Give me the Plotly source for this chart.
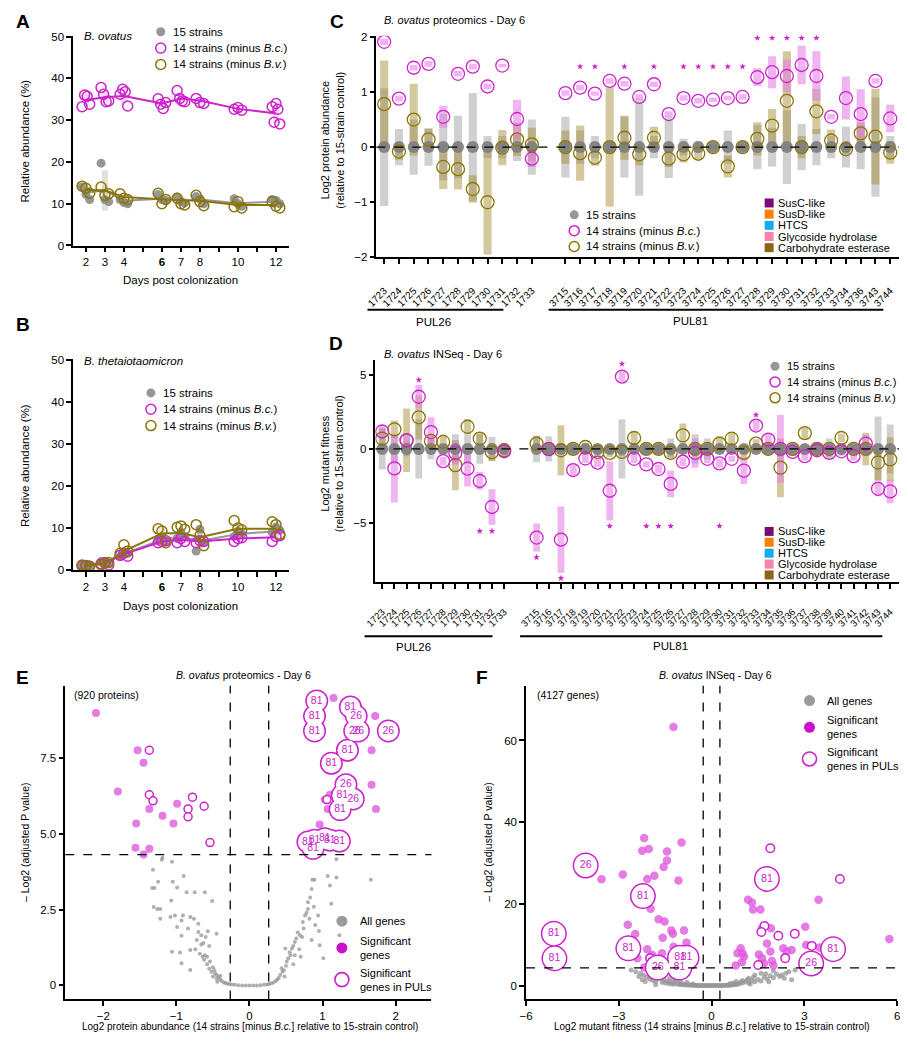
import numpy as np
import plotly.graph_objects as go

# page coordinates of the reference; the plot div sits 8px in from the page corner
W, H = 908, 1042
OFF = 8
FW, FH = W - OFF, H - OFF
FONT = "Arial, Liberation Sans, sans-serif"

MAGENTA = "#CC22CC"
MAGENTA_FILL = "rgba(222,90,222,0.8)"
MAGENTA_BAR = "rgba(228,120,228,0.55)"
OLIVE = "#8A7508"
OLIVE_BAR = "rgba(160,135,40,0.45)"
GREY = "rgba(125,125,125,0.9)"
GREY_BAR = "rgba(150,150,150,0.45)"
CLOUD = "rgba(150,150,150,0.75)"

CAT_COLORS = {
    "SusC-like": "#7A0A78",
    "SusD-like": "#FF8000",
    "HTCS": "#12AEEF",
    "Glycoside hydrolase": "#F583AC",
    "Carbohydrate esterase": "#8C6414",
}

# ---------------- panels A/B: relative abundance over time ----------------
DAYS = [2, 3, 4, 6, 7, 8, 10, 12]

BOV_MEAN_15 = [12.6, 13.2, 10.7, 11.2, 10.8, 11.0, 10.1, 10.5]
BOV_MEAN_BC = [34.8, 35.5, 35.8, 34.0, 35.2, 34.7, 32.7, 31.6]
BOV_MEAN_BV = [13.3, 13.2, 11.6, 11.0, 10.8, 10.7, 9.7, 9.7]
BOV_SD_15 = [1.5, 4.8, 0.6, 0.8, 0.7, 0.8, 0.9, 0.5]
BOV_SD_BC = [1.4, 1.5, 1.8, 1.0, 1.2, 0.6, 0.4, 2.3]
BOV_SD_BV = [0.9, 1.0, 0.7, 1.0, 0.7, 1.0, 0.7, 0.7]
BOV_REPS_15 = [[14.0, 12.3, 11.0], [19.7, 11.0, 10.5], [11.0, 10.3, 10.0],
               [12.2, 11.0, 10.8], [11.6, 10.5, 10.2], [11.7, 11.2, 10.0],
               [11.2, 10.0, 9.4], [11.0, 10.8, 10.0]]
BOV_REPS_BC = [[33.2, 36.0, 35.7, 33.8], [37.8, 36.2, 34.4, 34.6], [36.2, 37.4, 36.8, 33.4],
               [35.1, 33.8, 32.8, 34.2], [37.1, 35.2, 34.6, 34.4], [35.2, 34.2, 34.0],
               [32.6, 33.0, 32.4], [33.2, 29.5, 34.0, 32.6, 29.1]]
BOV_REPS_BV = [[14.2, 13.7, 12.5], [14.0, 12.0, 12.4], [12.4, 11.3, 11.0],
               [12.5, 10.0, 11.0], [11.3, 10.0, 9.7], [12.0, 10.5, 9.5],
               [9.3, 10.5, 9.0], [10.5, 9.4, 9.0]]

BTH_MEAN_15 = [1.0, 1.8, 3.9, 7.2, 7.9, 6.9, 8.6, 9.2]
BTH_MEAN_BC = [1.0, 1.6, 3.8, 6.8, 7.2, 6.8, 7.5, 7.8]
BTH_MEAN_BV = [1.0, 1.5, 4.5, 8.7, 8.8, 7.8, 9.8, 9.8]
BTH_SD_15 = [0.2, 0.3, 0.6, 0.4, 0.8, 2.1, 0.6, 0.6]
BTH_SD_BC = [0.1, 0.3, 0.4, 0.3, 0.5, 0.3, 0.5, 0.7]
BTH_SD_BV = [0.2, 0.3, 1.0, 1.7, 0.4, 2.5, 1.1, 1.5]
BTH_REPS_15 = [[1.0, 1.2, 0.9], [2.0, 1.7, 1.5], [3.2, 4.3, 4.0], [7.0, 7.5, 6.8],
               [7.5, 9.0, 8.0], [4.5, 9.7, 6.5], [8.0, 9.2, 8.6], [9.0, 10.2, 9.5]]
BTH_REPS_BC = [[1.0, 1.1, 0.9], [1.5, 1.8, 1.2], [3.5, 4.0, 3.3], [6.5, 6.8, 7.0],
               [6.5, 7.5, 6.8], [6.5, 7.0, 6.8], [6.8, 7.5, 7.7], [6.8, 8.0, 8.2]]
BTH_REPS_BV = [[1.2, 1.0, 0.9], [1.2, 1.6, 1.8], [4.0, 6.0, 4.5], [9.8, 9.3, 6.5],
               [10.2, 10.5, 9.7], [10.8, 8.2, 5.8], [11.8, 10.0, 9.6], [11.5, 10.8, 8.5]]

DAY_TICKS = list(range(2, 13))
DAY_LABELS = ["2", "3", "4", "", "<b>6</b>", "7", "8", "", "10", "", "12"]

# ---------------- gene annotations ----------------
GENE_CATEGORY = {
    1723: "Glycoside hydrolase", 1724: "Glycoside hydrolase", 1725: "Glycoside hydrolase",
    1728: "Glycoside hydrolase", 1730: "SusC-like", 1731: "SusD-like", 1732: "HTCS",
    1733: "Glycoside hydrolase",
    3715: "Glycoside hydrolase", 3716: "Glycoside hydrolase", 3717: "Glycoside hydrolase",
    3718: "Glycoside hydrolase", 3719: "Glycoside hydrolase", 3720: "Glycoside hydrolase",
    3721: "Glycoside hydrolase", 3722: "SusC-like", 3723: "SusD-like", 3724: "SusC-like",
    3725: "SusD-like", 3727: "Glycoside hydrolase", 3728: "Glycoside hydrolase",
    3729: "Glycoside hydrolase", 3730: "Glycoside hydrolase", 3731: "Carbohydrate esterase",
    3732: "Glycoside hydrolase", 3733: "HTCS", 3734: "Glycoside hydrolase", 3736: "HTCS",
    3737: "Glycoside hydrolase", 3738: "SusC-like", 3739: "SusD-like",
    3743: "Glycoside hydrolase",
}

# ---------------- panel C: proteomics ----------------
PROT_PUL26 = list(range(1723, 1734))
PROT_PUL81 = list(range(3715, 3735)) + [3736, 3743, 3744]

PROT_BC = [1.91, 0.88, 1.44, 1.51, 0.55, 1.33, 1.46, 1.10, 1.48, 0.51, -0.21,
           0.98, 1.08, 0.97, 1.20, 1.15, 0.91, 1.14, 0.60, 0.89, 0.84, 0.86, 0.89,
           0.91, 1.27, 1.36, 1.29, 1.49, 1.29, 0.55, 0.89, 0.60, 1.20, 0.52]
PROT_BC_ERR = [0.06, 0.05, 0.05, 0.05, 0.2, 0.05, 0.05, 0.05, 0.03, 0.35, 0.15,
               0.05, 0.05, 0.04, 0.05, 0.05, 0.05, 0.05, 0.05, 0.05, 0.05, 0.04, 0.04,
               0.05, 0.16, 0.29, 0.3, 0.35, 0.45, 0.05, 0.39, 0.45, 0.05, 0.25]
PROT_BV = [0.78, -0.08, 0.50, 0.14, -0.36, -0.40, -0.76, -1.00, -0.01, 0.14, 0.05,
           0.0, -0.11, -0.19, 0.0, 0.17, -0.13, 0.17, -0.21, -0.13, -0.12, 0.0, -0.35,
           0.0, 0.15, 0.39, 0.84, 0.0, 0.65, 0.12, -0.04, 0.25, 0.19, -0.10]
PROT_BV_ERR = [0.79, 0.15, 0.65, 0.2, 0.4, 0.37, 0.25, 0.95, 0.32, 0.3, 0.3,
               0.3, 0.5, 0.15, 1.08, 0.4, 0.2, 0.2, 0.15, 0.15, 0.1, 0.05, 0.2,
               0.05, 0.3, 0.3, 0.9, 0.2, 0.41, 0.2, 0.1, 0.2, 0.87, 0.2]
PROT_15_ERR = [1.07, 0.33, 0.5, 0.34, 0.6, 0.57, 0.98, 0.2, 0.2, 0.25, 0.5,
               0.55, 0.3, 0.2, 0.1, 0.55, 0.88, 0.2, 0.56, 0.15, 0.1, 0.05, 0.3,
               0.05, 0.4, 0.35, 0.67, 0.42, 0.33, 0.2, 0.37, 0.4, 0.9, 0.2]
PROT_STAR = [2.14, None, 2.14, 2.14, None, 2.14, 2.14, None, 2.14, None, None,
             None, 1.46, 1.46, None, 1.46, None, 1.46, None, 1.46, 1.46, 1.46, 1.46,
             1.46, 1.98, 1.98, 1.98, 1.98, 1.98, None, None, None, None, None]

# ---------------- panel D: INSeq ----------------
INS_PUL26 = list(range(1723, 1734))
INS_PUL81 = list(range(3715, 3745))

INS_BC = [1.18, -1.32, 0.58, 3.53, 1.14, -0.83, -0.27, -1.34, -2.17, -3.93, -0.16,
          -6.0, -0.02, -6.14, -1.43, -0.65, -0.93, -2.83, 4.89, -0.67, -1.05, -1.36,
          -2.37, -0.87, -0.27, -0.67, -0.98, -0.67, -1.47, 1.58, 0.63, 0.0, -0.2,
          -0.49, -0.09, -0.27, -0.16, -0.49, 0.36, -2.7, -2.88]
INS_BC_ERR = [0.35, 2.3, 0.5, 0.8, 1.0, 0.3, 0.8, 1.2, 0.6, 1.2, 0.3,
              0.95, 0.3, 2.25, 0.4, 0.3, 0.3, 2.0, 0.4, 0.3, 0.2, 0.3, 0.9, 0.3,
              1.0, 0.3, 0.3, 0.2, 0.9, 0.4, 0.4, 2.3, 0.3, 0.3, 0.3, 0.3, 0.3, 0.3,
              0.6, 0.5, 0.8]
INS_BV = [0.7, 1.32, 0.58, 2.14, 0.54, 0.47, -1.1, 1.5, 0.7, -0.22, -0.09,
          0.36, 0.0, -0.09, 0.0, 0.13, -0.2, -0.27, -0.2, 0.74, 0.0, 0.0, -0.27,
          0.92, 0.0, 0.0, 0.36, 0.69, -0.27, 0.36, 0.0, -1.27, 0.0, 1.07, 0.0, 0.0,
          0.74, 0.0, 0.0, -0.92, -0.71]
INS_BV_ERR = [0.7, 0.6, 2.15, 1.5, 0.5, 0.5, 1.7, 0.5, 0.4, 0.6, 0.4,
              0.5, 0.2, 1.7, 0.2, 0.3, 0.3, 0.3, 0.3, 0.4, 0.3, 0.2, 0.3, 0.8,
              0.3, 0.3, 0.5, 0.4, 0.5, 0.3, 0.2, 2.0, 0.2, 0.4, 0.2, 0.2, 0.3, 0.2,
              1.1, 1.2, 1.5]
INS_15_ERR = [1.4, 1.0, 0.5, 2.0, 0.7, 0.3, 1.0, 1.0, 1.0, 0.8, 0.3,
              0.9, 0.85, 0.3, 0.3, 0.3, 0.3, 0.3, 2.0, 0.3, 0.3, 0.3, 0.7, 0.3,
              1.0, 0.7, 0.3, 0.3, 0.3, 0.3, 0.3, 0.5, 0.3, 0.3, 0.3, 0.7, 0.3,
              0.3, 0.3, 2.2, 1.65]
INS_STAR = [None, None, None, 4.67, None, None, None, None, -5.56, -5.56, None,
            -7.34, None, -8.75, None, None, None, -5.22, 5.76, None, -5.22, -5.22,
            -5.22, None, None, None, -5.22, None, None, 2.3, None, None, None,
            None, None, None, None, None, None, None, None]

# ---------------- panel E: proteomics volcano ----------------
E_ALL_X = [-1.19, -1.2, -1.06, -1.32, -1.25, -1.33, -1.3, -1.05, -0.9, -0.99, -0.86, -0.75,
           -0.61, -0.51, -1.31, -1.26, -1.22, -1.07, -1.22, -1.08, -1.02, -0.91, -0.93, -0.81,
           -0.76, -0.7, -0.99, -0.84, -0.93, -0.7, -0.57, -0.45, -0.66, -0.6, -0.72, -0.63,
           -0.55, -0.66, -1.06, -0.95, -0.81, -0.74, -0.61, -0.68, -0.54, -0.81, -0.93, -0.58,
           -0.62, -0.5, -0.52, -0.48, -0.45, -0.42, -0.4, -0.38, -0.45, -0.5, -0.55, -0.35,
           -0.33, -0.47, -0.58, -0.64, -0.44, -0.4, -0.3, -0.27, -0.24, -0.2, -0.15, -0.1,
           -0.05, 0.0, 0.05, 0.1, 0.15, 0.2, 0.24, 0.27, 0.3, 0.33, 0.36, 0.38, 0.4, 0.42,
           0.44, 0.45, 0.47, 0.51, 0.5, 0.53, 0.56, 0.58, 0.55, 0.49, 0.62, 0.6, 0.64, 0.69,
           0.66, 0.74, 0.72, 0.76, 0.73, 0.8, 0.78, 0.83, 0.8, 0.85, 0.86, 0.89, 0.94, 0.96,
           1.01, 1.1, 1.12, 1.19, 1.07, 1.19, 1.23, 1.66, 0.68, 0.7, 0.62, 0.85, 0.9, 0.95,
           0.88, 0.82, 0.6, 0.48]
E_ALL_Y = [4.22, 4.15, 4.09, 3.82, 3.43, 3.22, 3.22, 3.43, 3.62, 3.24, 3.08, 3.08,
           3.08, 2.79, 2.59, 2.53, 2.53, 2.81, 2.2, 2.26, 2.31, 2.31, 2.15, 2.26,
           2.2, 2.04, 1.93, 1.88, 1.64, 1.77, 1.79, 1.71, 1.66, 1.6, 1.5, 1.4,
           1.3, 1.35, 1.11, 1.09, 1.17, 1.2, 1.0, 1.05, 0.79, 0.51, 0.73, 0.95,
           0.85, 0.6, 0.45, 0.5, 0.35, 0.28, 0.2, 0.15, 0.22, 0.3, 0.55, 0.1,
           0.08, 0.4, 0.7, 0.95, 0.12, 0.32, 0.06, 0.04, 0.03, 0.02, 0.01, 0.0,
           0.0, 0.0, 0.0, 0.0, 0.01, 0.02, 0.03, 0.05, 0.07, 0.1, 0.15, 0.2, 0.25, 0.35,
           0.57, 0.45, 0.5, 0.79, 0.65, 0.9, 1.0, 1.22, 1.1, 1.22, 1.44, 1.3, 1.55, 1.66,
           1.75, 1.88, 1.6, 2.31, 2.1, 2.53, 2.4, 2.91, 2.75, 3.19, 3.49, 3.49, 2.31, 1.33,
           0.9, 3.3, 2.7, 4.17, 3.62, 3.57, 1.66, 3.49, 1.2, 0.95, 1.0, 1.5, 2.0, 1.8,
           2.6, 2.2, 0.7, 0.3]
E_SIG_X = [-2.1, -1.53, -1.45, -1.8, -1.37, -1.19, -0.99, -1.04, -1.55, -1.56, -1.45, -1.37,
           1.67, 1.67, 1.73, 0.96, 1.03, 1.1, 1.07, 1.15, 1.72]
E_SIG_Y = [9.0, 7.77, 7.36, 6.41, 5.83, 5.61, 6.0, 5.35, 5.35, 4.55, 4.33, 4.52,
           7.77, 6.63, 5.83, 5.32, 6.14, 6.3, 5.83, 9.5, 8.9]
E_PUL_X = [-1.37, -1.37, -1.32, -0.78, -0.84, -0.84, -0.62, -0.54, 1.06]
E_PUL_Y = [7.77, 6.3, 6.1, 6.22, 5.83, 5.57, 5.92, 4.72, 6.14]
E_TAG = ["81", "81", "81", "26", "26", "26", "81", "81", "26", "81", "26", "26", "81",
         "81", "81", "81", "81", "81", "81", "81"]
E_TAG_X = [0.92, 0.89, 0.89, 1.44, 1.49, 1.9, 1.38, 1.34, 1.46, 1.12, 1.32, 1.42, 1.27,
           1.24, 0.8, 0.89, 1.03, 1.1, 1.23, 0.87]
E_TAG_Y = [9.4, 8.9, 8.41, 8.41, 8.41, 8.41, 9.2, 7.77, 8.9, 7.34, 6.63, 6.16, 6.28,
           5.81, 4.74, 4.8, 4.85, 4.8, 4.77, 4.53]

# ---------------- panel F: INSeq volcano ----------------
F_ALL_X = [-2.6, -2.45, -2.3, -2.2, -2.24, -2.1, -2.0, -1.95, -1.9, -1.81, -1.8, -1.7,
           -1.6, -1.55, -1.5, -1.45, -1.4, -1.35, -1.3, -1.25, -1.2, -1.1, -1.05, -1.0,
           -0.95, -0.9, -0.85, -0.8, -0.75, -0.7, -0.65, -0.6, -0.55, -0.5, -0.45, -0.4,
           -0.35, -0.3, -0.25, -0.2, -0.15, -0.1, -0.05, 0.0, 0.05, 0.1, 0.15, 0.2, 0.25,
           0.3, 0.35, 0.4, 0.45, 0.5, 0.55, 0.6, 0.65, 0.7, 0.75, 0.8, 0.85, 0.9, 1.0,
           1.1, 1.2, 1.3, 1.4, 1.5, 1.6, 1.7, 1.8, 1.9, 2.0, 2.1, 2.2, 2.27, 2.4, 2.59,
           2.5, 2.7, 1.0, 1.2, -1.0, -1.2, -0.8, 0.7, 0.8, -2.0, 1.6, 2.0, -1.7, -1.5,
           1.4, -2.35, -1.85, -1.65, -1.15, 1.15, 1.35, 1.75, 2.35, 0.95, -0.6, 0.6,
           -1.35, 1.25, 1.85, -2.15]
F_ALL_Y = [3.8, 3.4, 3.0, 2.6, 1.4, 2.0, 1.6, 2.8, 1.2, 0.2, 1.0, 1.8,
           0.8, 1.4, 0.6, 1.1, 0.5, 0.9, 0.4, 0.7, 0.3, 0.5, 0.25, 0.4,
           0.2, 0.3, 0.15, 0.2, 0.1, 0.15, 0.08, 0.1, 0.05, 0.06, 0.03, 0.04,
           0.02, 0.02, 0.01, 0.0, 0.0, 0.0, 0.0, 0.0, 0.0, 0.0, 0.0, 0.01, 0.01,
           0.02, 0.03, 0.04, 0.05, 0.07, 0.08, 0.1, 0.15, 0.2, 0.25, 0.3, 0.3, 0.5, 0.6,
           0.9, 0.7, 1.2, 0.9, 1.5, 1.1, 2.0, 1.6, 2.4, 1.9, 2.8, 2.2, 2.6, 3.0, 1.4,
           3.4, 3.8, 1.2, 1.8, 1.0, 1.6, 0.8, 0.6, 1.0, 3.4, 3.0, 3.6, 3.2, 2.5,
           2.6, 2.2, 2.2, 2.6, 1.3, 1.4, 2.0, 2.9, 1.8, 0.9, 0.4, 0.5,
           1.7, 0.4, 0.9, 1.0]
F_SIG_X = [-1.23, -2.18, -2.03, -2.24, -0.97, -1.44, -1.44, -1.55, -1.85, -2.08, -2.87,
           -3.56, -1.07, -1.97, -1.71, -1.52, -2.71, -2.47, -1.3, -1.25, -0.89, -1.58,
           -0.81, -2.08, -2.4, -1.92, -1.6, -2.18, -1.23,
           1.18, 1.31, 1.58, 1.34, 3.46, 3.03, 1.92, 1.63, 1.79, 1.9, 2.32, 2.59, 3.06,
           3.49, 5.75, 0.94, 0.84, 1.0, 1.05, 0.98, 0.78, 1.53, 1.63, 1.69, 1.95, 2.0, 2.43]
F_SIG_Y = [63.3, 36.1, 33.4, 33.0, 35.0, 32.8, 30.6, 29.0, 26.9, 26.1, 27.2,
           26.0, 25.7, 18.8, 16.2, 15.7, 14.9, 12.6, 13.5, 12.7, 13.5, 11.7,
           10.5, 8.9, 6.7, 7.5, 7.9, 4.4, 9.5,
           21.0, 20.3, 18.6, 18.6, 21.0, 14.4, 14.0, 14.0, 10.3, 8.3, 9.1, 8.7, 9.9,
           9.3, 11.4, 9.1, 7.9, 7.9, 7.1, 5.7, 4.9, 7.6, 6.7, 5.4, 6.0, 4.9, 8.3]
F_PUL_X = [1.9, 4.15, 1.71, 1.61, 2.16, 2.69, 3.24, 2.38, 1.51, -1.99]
F_PUL_Y = [33.6, 26.1, 14.6, 13.1, 12.2, 12.7, 9.7, 6.7, 5.0, 6.7]
F_TAG = ["26", "81", "81", "81", "81", "81", "26", "81", "81", "81", "81", "26"]
F_TAG_X = [-4.07, -2.22, 1.79, -5.1, -5.08, -2.69, -1.74, -1.02, -0.81, -1.04, 3.93, 3.22]
F_TAG_Y = [29.4, 21.9, 26.1, 12.7, 6.65, 9.1, 4.4, 6.8, 6.8, 4.4, 8.9, 5.4]

FC_CUT_E = 0.263
FC_CUT_F = 0.27
P_CUT = 4.32


def dom_x(left, right):
    return [(left - OFF) / FW, (right - OFF) / FW]


def dom_y(top, bottom):
    return [1 - (bottom - OFF) / FH, 1 - (top - OFF) / FH]


fig = go.Figure()


def add_timecourse(xa, ya, means, sds, reps, color, bar_color, filled):
    fig.add_trace(go.Bar(x=DAYS, y=2 * np.array(sds), base=np.array(means) - np.array(sds),
                         width=0.32, marker_color=bar_color, marker_line_width=0,
                         xaxis=xa, yaxis=ya, showlegend=False))
    fig.add_trace(go.Scatter(x=DAYS, y=means, mode="lines", line=dict(color=color, width=2),
                             xaxis=xa, yaxis=ya, showlegend=False))
    xs, ys = [], []
    for day, vals in zip(DAYS, reps):
        offs = np.linspace(-0.2, 0.2, len(vals))
        xs += list(day + offs)
        ys += vals
    marker = dict(size=9, color=color) if filled else \
        dict(size=10, symbol="circle-open", color=color, line=dict(width=1.5))
    fig.add_trace(go.Scatter(x=xs, y=ys, mode="markers", marker=marker,
                             xaxis=xa, yaxis=ya, showlegend=False, cliponaxis=False))


for xa, ya, group in [
    ("x", "y", [(BOV_MEAN_15, BOV_SD_15, BOV_REPS_15), (BOV_MEAN_BC, BOV_SD_BC, BOV_REPS_BC),
                (BOV_MEAN_BV, BOV_SD_BV, BOV_REPS_BV)]),
    ("x2", "y2", [(BTH_MEAN_15, BTH_SD_15, BTH_REPS_15), (BTH_MEAN_BC, BTH_SD_BC, BTH_REPS_BC),
                  (BTH_MEAN_BV, BTH_SD_BV, BTH_REPS_BV)]),
]:
    styles = [("rgba(140,140,140,0.9)", "rgba(170,170,170,0.35)", True),
              (MAGENTA, "rgba(230,140,230,0.35)", False),
              (OLIVE, "rgba(200,185,120,0.35)", False)]
    for (m, s, r), (c, bc, f) in zip(group, styles):
        add_timecourse(xa, ya, m, s, r, c, bc, f)


def gene_positions(n26, n81, gap):
    return np.concatenate([np.arange(n26), n26 + gap + np.arange(n81)])


def add_gene_panel(xa, ya, genes, pos, bc, bc_err, bv, bv_err, g_err, stars,
                   bar_w, sq_y, sq_size, dot_size, ring_size):
    bc, bc_err, bv, bv_err, g_err = map(np.array, (bc, bc_err, bv, bv_err, g_err))
    common = dict(xaxis=xa, yaxis=ya, showlegend=False)
    fig.add_trace(go.Bar(x=pos, y=2 * g_err, base=-g_err, width=bar_w,
                         marker_color=GREY_BAR, marker_line_width=0, **common))
    fig.add_trace(go.Bar(x=pos, y=2 * bv_err, base=bv - bv_err, width=bar_w,
                         marker_color=OLIVE_BAR, marker_line_width=0, **common))
    fig.add_trace(go.Bar(x=pos, y=2 * bc_err, base=bc - bc_err, width=bar_w,
                         marker_color=MAGENTA_BAR, marker_line_width=0, **common))
    fig.add_trace(go.Scatter(x=pos, y=np.zeros(len(pos)), mode="markers",
                             marker=dict(size=dot_size, color=GREY), **common))
    fig.add_trace(go.Scatter(x=pos, y=bv, mode="markers",
                             marker=dict(size=ring_size, symbol="circle-open", color=OLIVE,
                                         line=dict(width=1.3)), **common))
    fig.add_trace(go.Scatter(x=pos, y=bc, mode="markers",
                             marker=dict(size=ring_size, symbol="circle-open", color=MAGENTA,
                                         line=dict(width=1.3)), **common))
    sx = [p for p, s in zip(pos, stars) if s is not None]
    sy = [s for s in stars if s is not None]
    fig.add_trace(go.Scatter(x=sx, y=sy, mode="markers", cliponaxis=False,
                             marker=dict(size=5, symbol="star", color=MAGENTA), **common))
    cx = [p for p, g in zip(pos, genes) if g in GENE_CATEGORY]
    cc = [CAT_COLORS[GENE_CATEGORY[g]] for g in genes if g in GENE_CATEGORY]
    fig.add_trace(go.Scatter(x=cx, y=[sq_y] * len(cx), mode="markers", cliponaxis=False,
                             marker=dict(size=sq_size, symbol="square", color=cc), **common))


prot_genes = PROT_PUL26 + PROT_PUL81
prot_pos = gene_positions(len(PROT_PUL26), len(PROT_PUL81), 1.27)
add_gene_panel("x3", "y3", prot_genes, prot_pos, PROT_BC, PROT_BC_ERR, PROT_BV, PROT_BV_ERR,
               PROT_15_ERR, PROT_STAR, 0.55, -2.27, 10, 12, 13)

ins_genes = INS_PUL26 + INS_PUL81
ins_pos = gene_positions(len(INS_PUL26), len(INS_PUL81), 1.66)
add_gene_panel("x4", "y4", ins_genes, ins_pos, INS_BC, INS_BC_ERR, INS_BV, INS_BV_ERR,
               INS_15_ERR, INS_STAR, 0.56, -9.94, 9, 12, 13)


def add_volcano(xa, ya, ax, ay, sx, sy, px, py, tags, tx, ty, cloud_size, sig_size, tag_size):
    common = dict(xaxis=xa, yaxis=ya, showlegend=False, cliponaxis=False)
    fig.add_trace(go.Scatter(x=ax, y=ay, mode="markers",
                             marker=dict(size=cloud_size, color=CLOUD), **common))
    fig.add_trace(go.Scatter(x=sx, y=sy, mode="markers",
                             marker=dict(size=sig_size, color=MAGENTA_FILL), **common))
    fig.add_trace(go.Scatter(x=px, y=py, mode="markers",
                             marker=dict(size=sig_size, color="white",
                                         line=dict(color=MAGENTA, width=1.5)), **common))
    # outline pass then white pass, so overlapping rings merge into one outline
    fig.add_trace(go.Scatter(x=tx, y=ty, mode="markers",
                             marker=dict(size=tag_size + 3, color=MAGENTA), **common))
    fig.add_trace(go.Scatter(x=tx, y=ty, mode="markers",
                             marker=dict(size=tag_size, color="white"), **common))
    fig.add_trace(go.Scatter(x=tx, y=ty, mode="text", text=tags,
                             textfont=dict(size=10.5, color=MAGENTA, family=FONT), **common))


add_volcano("x5", "y5", E_ALL_X, E_ALL_Y, E_SIG_X, E_SIG_Y, E_PUL_X, E_PUL_Y,
            E_TAG, E_TAG_X, E_TAG_Y, 4, 8, 20)
add_volcano("x6", "y6", F_ALL_X, F_ALL_Y, F_SIG_X, F_SIG_Y, F_PUL_X, F_PUL_Y,
            F_TAG, F_TAG_X, F_TAG_Y, 5, 8.5, 23)

# ---------------- overlay in page pixels for legends and labels ----------------
def px_marker(x, y, **marker):
    fig.add_trace(go.Scatter(x=[x], y=[y], mode="markers", marker=marker,
                             xaxis="x7", yaxis="y7", showlegend=False, cliponaxis=False))


def px_text(x, y, s, size=11, xanchor="left", angle=0, align="left"):
    fig.add_annotation(x=x, y=y, xref="x7", yref="y7", text=s, showarrow=False,
                       xanchor=xanchor, yanchor="middle", textangle=angle, align=align,
                       font=dict(size=size, family=FONT, color="black"))


def px_line(x0, x1, y):
    fig.add_shape(type="line", xref="x7", yref="y7", x0=x0, x1=x1, y0=y, y1=y,
                  line=dict(color="black", width=2))


SERIES_LABELS = ["15 strains", "14 strains (minus <i>B.c.</i>)", "14 strains (minus <i>B.v.</i>)"]


def series_legend(x, y0, step, size=11.5):
    px_marker(x, y0, size=9, color="rgba(140,140,140,0.9)")
    px_marker(x, y0 + step, size=10, symbol="circle-open", color=MAGENTA, line=dict(width=1.5))
    px_marker(x, y0 + 2 * step, size=10, symbol="circle-open", color=OLIVE, line=dict(width=1.5))
    for i, lab in enumerate(SERIES_LABELS):
        px_text(x + 10, y0 + i * step, lab, size)


def category_legend(x, y0, step):
    for i, (name, col) in enumerate(CAT_COLORS.items()):
        px_marker(x, y0 + i * step, size=9, symbol="square", color=col)
        px_text(x + 7, y0 + i * step, name, 11)


series_legend(152, 27, 16.5)
series_legend(142, 392, 16.5)
series_legend(572, 212, 16)
series_legend(776, 365, 16, 11)
category_legend(770, 200, 11.3)
category_legend(770, 532, 11)

for x, y, s in [(12, 17, "A"), (12, 323, "B"), (331, 17, "C"), (330, 342, "D"),
                (12, 680, "E"), (478, 680, "F")]:
    px_text(x, y, f"<b>{s}</b>", 19, xanchor="center")

px_text(72, 31, "<i>B. ovatus</i>", 11.5)
px_text(72, 360, "<i>B. thetaiotaomicron</i>", 11.5)
px_text(172, 278, "Days post colonization", 11.5, xanchor="center")
px_text(172, 607, "Days post colonization", 11.5, xanchor="center")
px_text(14, 137, "Relative abundance (%)", 11.5, xanchor="center", angle=-90)
px_text(14, 465, "Relative abundance (%)", 11.5, xanchor="center", angle=-90)

px_text(377, 15, "<i>B. ovatus</i> proteomics - Day 6", 11)
px_text(326, 137, "Log2 protein abundance<br>(relative to 15-strain control)", 11,
        xanchor="center", angle=-90, align="center")
px_text(377, 353, "<i>B. ovatus</i> INSeq - Day 6", 11)
px_text(326, 464, "Log2 mutant fitness<br>(relative to 15-strain control)", 11,
        xanchor="center", angle=-90, align="center")

px_line(362, 500, 308)
px_line(546, 886, 308)
px_text(429, 320, "PUL26", 11.5, xanchor="center")
px_text(690, 319, "PUL81", 11.5, xanchor="center")
px_line(359, 489, 638)
px_line(517, 885, 638)
px_text(409, 649, "PUL26", 11.5, xanchor="center")
px_text(670, 648, "PUL81", 11.5, xanchor="center")

# volcano legends and labels
px_text(236, 677, "<i>B. ovatus</i> proteomics - Day 6", 10.5, xanchor="center")
px_text(62, 697, "(920 proteins)", 10.5)
px_text(715, 677, "<i>B. ovatus</i> INSeq - Day 6", 10.5, xanchor="center")
px_text(532, 697, "(4127 genes)", 10.5)
for lx, ys in [(336, (926, 953, 985)), (811, (703, 730, 762))]:
    px_marker(lx, ys[0], size=11, color="rgba(150,150,150,0.95)")
    px_marker(lx, ys[1], size=11, color="#CC11CC")
    px_marker(lx, ys[2], size=14, symbol="circle-open", color=MAGENTA, line=dict(width=1.6))
    px_text(lx + 16, ys[0], "All genes", 11)
    px_text(lx + 16, ys[1], "Significant<br>genes", 11)
    px_text(lx + 16, ys[2], "Significant<br>genes in PULs", 11)

px_text(14, 846, "\u2013 Log2 (adjusted P value)", 10.5, xanchor="center", angle=-90)
px_text(485, 846, "\u2013 Log2 (adjusted P value)", 10.5, xanchor="center", angle=-90)
px_text(243, 1032, "Log2 protein abundance (14 strains [minus <i>B.c.</i>] relative to 15-strain control)",
        10, xanchor="center")
px_text(712, 1032, "Log2 mutant fitness (14 strains [minus <i>B.c.</i>] relative to 15-strain control)",
        10, xanchor="center")

# ---------------- reference lines ----------------
def dashed(xref, yref, x0, x1, y0, y1):
    fig.add_shape(type="line", xref=xref, yref=yref, x0=x0, x1=x1, y0=y0, y1=y1,
                  line=dict(color="black", width=1.3, dash="dash"))


dashed("x3 domain", "y3", 0, 1, 0, 0)
dashed("x4 domain", "y4", 0, 1, 0, 0)
dashed("x5 domain", "y5", 0, 1, P_CUT, P_CUT)
dashed("x5", "y5 domain", -FC_CUT_E, -FC_CUT_E, 0, 1)
dashed("x5", "y5 domain", FC_CUT_E, FC_CUT_E, 0, 1)
dashed("x6 domain", "y6", 0, 1, P_CUT, P_CUT)
dashed("x6", "y6 domain", -FC_CUT_F, -FC_CUT_F, 0, 1)
dashed("x6", "y6 domain", FC_CUT_F, FC_CUT_F, 0, 1)

# ---------------- axes ----------------
axis_style = dict(showline=True, linecolor="black", linewidth=1.5, ticks="outside",
                  ticklen=5, tickwidth=1.5, tickcolor="black", showgrid=False,
                  zeroline=False, tickfont=dict(size=11.5, family=FONT, color="black"))

day_axis = dict(axis_style, range=[1.33, 12.67], tickvals=DAY_TICKS, ticktext=DAY_LABELS)
abund_axis = dict(axis_style, range=[0, 50.2], tickvals=[0, 10, 20, 30, 40, 50])

fig.update_layout(
    width=FW, height=FH, margin=dict(l=0, r=0, t=0, b=0),
    paper_bgcolor="white", plot_bgcolor="rgba(0,0,0,0)",
    barmode="overlay", font=dict(family=FONT, color="black"),
    xaxis=dict(day_axis, domain=dom_x(63, 282), anchor="y"),
    yaxis=dict(abund_axis, domain=dom_y(31, 243), anchor="x"),
    xaxis2=dict(day_axis, domain=dom_x(63, 282), anchor="y2"),
    yaxis2=dict(abund_axis, domain=dom_y(358, 571), anchor="x2"),
    xaxis3=dict(axis_style, domain=dom_x(371, 902), anchor="y3",
                range=[-0.53, prot_pos[-1] + 0.6], tickvals=prot_pos,
                ticktext=[str(g) for g in prot_genes], tickangle=-45,
                ticklabelstandoff=17, tickfont=dict(size=10, family=FONT, color="black")),
    yaxis3=dict(axis_style, domain=dom_y(31, 255), anchor="x3", range=[-2, 2.02],
                tickvals=[-2, -1, 0, 1, 2]),
    xaxis4=dict(axis_style, domain=dom_x(370, 902), anchor="y4",
                range=[-0.56, ins_pos[-1] + 0.73], tickvals=ins_pos,
                ticktext=[str(g) for g in ins_genes], tickangle=-45,
                ticklabelstandoff=14, tickfont=dict(size=9.5, family=FONT, color="black")),
    yaxis4=dict(axis_style, domain=dom_y(359, 583), anchor="x4", range=[-9, 6],
                tickvals=[-5, 0, 5]),
    xaxis5=dict(axis_style, domain=dom_x(55, 427), anchor="y5", range=[-2.52, 2.49],
                tickvals=[-2, -1, 0, 1, 2]),
    yaxis5=dict(axis_style, domain=dom_y(688, 1005), anchor="x5", range=[-0.46, 9.9],
                tickvals=[0, 2.5, 5, 7.5], ticktext=["0", "2.5", "5.0", "7.5"]),
    xaxis6=dict(axis_style, domain=dom_x(523, 900), anchor="y6", range=[-6, 6],
                tickvals=[-6, -3, 0, 3, 6]),
    yaxis6=dict(axis_style, domain=dom_y(688, 1005), anchor="x6", range=[-3.4, 73.4],
                tickvals=[0, 20, 40, 60]),
    xaxis7=dict(domain=[0, 1], range=[OFF, W], visible=False, anchor="y7"),
    yaxis7=dict(domain=[0, 1], range=[H, OFF], visible=False, anchor="x7"),
)

fig.write_html("out.html")
